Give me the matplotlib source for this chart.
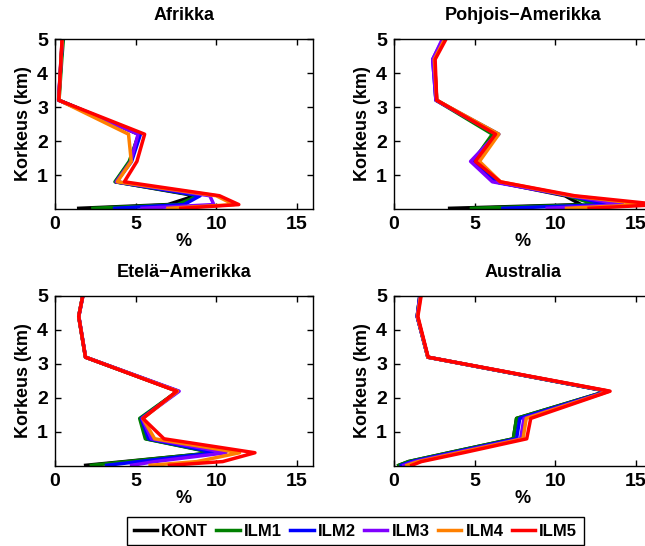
import matplotlib
matplotlib.use('Agg')
import matplotlib.pyplot as plt

plt.rcParams['font.family'] = ['Liberation Sans', 'DejaVu Sans']
plt.rcParams['font.weight'] = 'bold'
plt.rcParams['axes.labelweight'] = 'bold'
plt.rcParams['axes.titleweight'] = 'bold'

# height levels (km)
levels = [0.02, 0.13, 0.39, 0.8, 1.4, 2.2, 3.2, 4.4, 5.0]

series = ['KONT', 'ILM1', 'ILM2', 'ILM3', 'ILM4', 'ILM5']
colors = ['#000000', '#008000', '#0000ff', '#8000ff', '#ff8000', '#ff0000']

titles = ['Afrikka', 'Pohjois\u2212Amerikka', 'Etel\u00e4\u2212Amerikka', 'Australia']

# % values per level, one list per scenario
afrikka = [
    [1.47, 7.0, 8.7, 3.75, 4.65, 5.2, 0.23, 0.38, 0.47],
    [2.35, 7.6, 8.9, 3.72, 4.6, 5.2, 0.25, 0.42, 0.52],
    [3.7, 8.0, 9.0, 3.8, 4.75, 5.3, 0.23, 0.38, 0.47],
    [5.4, 9.85, 9.6, 3.8, 4.7, 5.15, 0.22, 0.37, 0.45],
    [7.0, 11.1, 10.0, 3.86, 4.73, 4.56, 0.25, 0.37, 0.45],
    [7.8, 11.4, 10.2, 4.3, 5.08, 5.56, 0.23, 0.37, 0.44],
]
pohjois_amerikka = [
    [3.45, 11.6, 10.6, 6.3, 4.95, 6.3, 2.65, 2.5, 3.1],
    [4.8, 12.5, 10.8, 6.3, 4.9, 6.1, 2.6, 2.45, 3.05],
    [6.75, 13.3, 10.9, 6.3, 4.85, 6.5, 2.6, 2.4, 3.05],
    [9.5, 14.2, 10.9, 6.1, 4.75, 6.35, 2.6, 2.4, 3.0],
    [10.7, 15.7, 11.0, 6.6, 5.3, 6.5, 2.65, 2.5, 3.15],
    [12.1, 16.5, 11.2, 6.6, 5.05, 6.3, 2.65, 2.55, 3.23],
]
etela_amerikka = [
    [1.9, 4.3, 9.9, 5.66, 5.35, 7.6, 1.89, 1.47, 1.72],
    [2.25, 4.5, 9.8, 5.6, 5.25, 7.6, 1.89, 1.47, 1.72],
    [3.2, 5.2, 10.0, 5.8, 5.35, 7.65, 1.89, 1.47, 1.72],
    [4.75, 6.2, 10.6, 5.98, 5.4, 7.7, 1.9, 1.48, 1.73],
    [5.9, 8.8, 11.45, 6.18, 5.45, 7.6, 1.89, 1.47, 1.72],
    [7.1, 10.4, 12.4, 6.76, 5.45, 7.55, 1.89, 1.47, 1.72],
]
australia = [
    [0.3, 0.9, 3.4, 7.4, 7.6, 13.2, 2.1, 1.44, 1.6],
    [0.3, 0.9, 3.4, 7.4, 7.6, 13.2, 2.1, 1.44, 1.6],
    [0.45, 1.1, 3.6, 7.6, 7.8, 13.25, 2.1, 1.44, 1.6],
    [0.6, 1.3, 3.8, 7.85, 8.06, 13.3, 2.1, 1.44, 1.62],
    [0.8, 1.5, 4.0, 8.0, 8.2, 13.35, 2.1, 1.46, 1.65],
    [1.1, 1.7, 4.3, 8.23, 8.48, 13.4, 2.12, 1.48, 1.68],
]

panels = [afrikka, pohjois_amerikka, etela_amerikka, australia]

W, H = 645, 546
fig = plt.figure(figsize=(W / 100, H / 100), dpi=100)

# axes boxes in pixels: left, top
boxes = [(55, 39), (394, 39), (55, 296), (394, 296)]
aw, ah = 258, 170

handles = []
for i, (data, title) in enumerate(zip(panels, titles)):
    l, t = boxes[i]
    ax = fig.add_axes([l / W, 1 - (t + ah) / H, aw / W, ah / H])
    for j, vals in enumerate(data):
        line, = ax.plot(vals, levels, color=colors[j], lw=2.5, label=series[j])
        if i == 0:
            handles.append(line)
    ax.set_xlim(0, 16)
    ax.set_ylim(0, 5)
    ax.set_xticks([0, 5, 10, 15])
    ax.set_yticks([1, 2, 3, 4, 5])
    ax.tick_params(direction='in', top=True, right=True, length=4, width=1,
                   labelsize=14, pad=5)
    for lab in ax.get_xticklabels() + ax.get_yticklabels():
        lab.set_fontweight('bold')
    for sp in ax.spines.values():
        sp.set_linewidth(1.0)
    ax.set_title(title, fontsize=13, pad=14)
    ax.set_xlabel('%', fontsize=13, labelpad=0)
    ax.set_ylabel('Korkeus (km)', fontsize=13, labelpad=4)

fig.legend(handles, series, loc='upper center', ncol=6,
           bbox_to_anchor=(355.5 / W, 1 - 517 / H), borderaxespad=0,
           fontsize=12, handlelength=1.4, handletextpad=0.25,
           columnspacing=0.5, frameon=True, fancybox=False,
           edgecolor='black', framealpha=1, borderpad=0.4)
fig.legends[0].get_frame().set_linewidth(1.0)

fig.savefig('out.png', dpi=100)
